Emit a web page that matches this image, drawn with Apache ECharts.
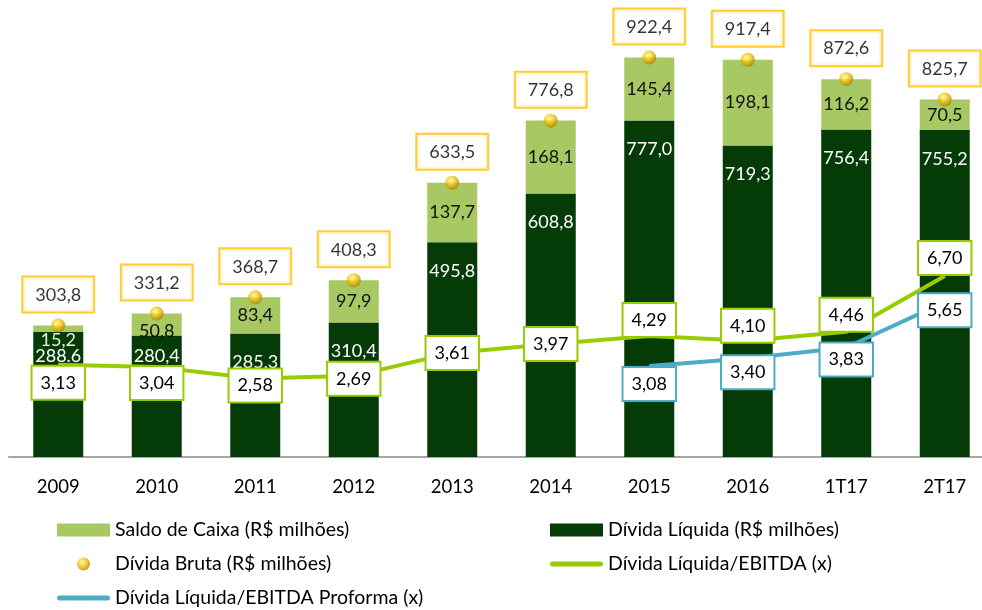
<!DOCTYPE html>
<html>
<head>
<meta charset="utf-8">
<title>Dívida</title>
<script src="https://cdn.jsdelivr.net/npm/echarts@6.0.0/dist/echarts.min.js"></script>
<style>
html, body { margin: 0; padding: 0; background: #fff; overflow: hidden; }
#main { width: 1000px; height: 610px; }
</style>
</head>
<body>
<div id="main"></div>
<script>
// 数据
var categories = ['2009', '2010', '2011', '2012', '2013', '2014', '2015', '2016', '1T17', '2T17'];
var dividaLiquida = [288.6, 280.4, 285.3, 310.4, 495.8, 608.8, 777.0, 719.3, 756.4, 755.2];
var saldoCaixa = [15.2, 50.8, 83.4, 97.9, 137.7, 168.1, 145.4, 198.1, 116.2, 70.5];
var dividaBruta = [303.8, 331.2, 368.7, 408.3, 633.5, 776.8, 922.4, 917.4, 872.6, 825.7];
var ebitda = [3.13, 3.04, 2.58, 2.69, 3.61, 3.97, 4.29, 4.10, 4.46, 6.70];
var ebitdaProforma = [null, null, null, null, null, null, 3.08, 3.40, 3.83, 5.65];

// 标签上下偏移 (px)
var ebitdaShift = [18, 16, 7, 3, 0, 0, -16, -15, -17, -18];
var proformaShift = [0, 0, 0, 0, 0, 0, 18, 14, 12, 8];

var FONT = 'Lato, "Noto Sans", sans-serif';

function br(v, d) {
    return v.toFixed(d).replace('.', ',');
}

// 带边框的标签
function boxLabel(border, d) {
    return {
        show: true,
        color: '#000',
        fontFamily: FONT,
        fontSize: 18,
        lineHeight: 21,
        backgroundColor: '#fff',
        borderColor: border,
        borderWidth: 2,
        padding: [7, 9, 6, 9],
        formatter: function (p) { return br(p.value, d); }
    };
}

var chart = echarts.init(document.getElementById('main'));

var liquidaData = dividaLiquida.map(function (v, i) {
    var item = { value: v };
    if (i === 0) item.label = { formatter: '288.6', offset: [0, -5] };
    if (i === 1) item.label = { offset: [0, -8] };
    return item;
});

var saldoData = saldoCaixa.map(function (v, i) {
    var item = { value: v };
    if (i === 0) item.label = { color: '#e4eed3', offset: [0, 11] };
    if (i === 1) item.label = { offset: [0, 7] };
    return item;
});

var ebitdaData = ebitda.map(function (v, i) {
    return { value: v, label: { offset: [0, ebitdaShift[i]] } };
});

var proformaData = ebitdaProforma.map(function (v, i) {
    if (v === null) return '-';
    return { value: v, label: { offset: [0, proformaShift[i]] } };
});

var ebitdaLabel = boxLabel('#99CC00', 2);
ebitdaLabel.position = 'inside';
ebitdaLabel.padding = [6, 8, 5, 8];
var proformaLabel = boxLabel('#4BACC6', 2);
proformaLabel.position = 'inside';
proformaLabel.padding = [6, 8, 5, 8];

var brutaLabel = boxLabel('#FFC000', 1);
brutaLabel.position = 'top';
brutaLabel.distance = 7;
brutaLabel.padding = [7, 12, 6, 12];

var lineIcon = 'path://M2.5,0H50.5A2.5,2.5,0,0,1,50.5,5H2.5A2.5,2.5,0,0,1,2.5,0Z';
var legendText = { fontSize: 19.5, color: '#000', lineHeight: 20, fontFamily: FONT };

var option = {
    animation: false,
    backgroundColor: '#fff',
    textStyle: { fontFamily: FONT },
    grid: {
        left: 9,
        top: 24,
        width: 985,
        height: 433
    },
    legend: [
        {
            orient: 'vertical',
            left: 57,
            top: 520,
            height: 100,
            padding: 0,
            itemWidth: 53,
            itemHeight: 13,
            itemGap: 14,
            textStyle: legendText,
            data: [
                { name: 'Saldo de Caixa (R$ milhões)', icon: 'rect' },
                { name: 'Dívida Bruta (R$ milhões)', icon: 'circle' },
                { name: 'Dívida Líquida/EBITDA Proforma (x)', icon: lineIcon }
            ]
        },
        {
            orient: 'vertical',
            left: 550,
            top: 520,
            height: 100,
            padding: 0,
            itemWidth: 53,
            itemHeight: 13,
            itemGap: 14,
            textStyle: legendText,
            data: [
                { name: 'Dívida Líquida (R$ milhões)', icon: 'rect' },
                { name: 'Dívida Líquida/EBITDA (x)', icon: lineIcon }
            ]
        }
    ],
    xAxis: {
        type: 'category',
        data: categories,
        axisTick: { show: false },
        axisLine: { lineStyle: { color: '#A6A6A6', width: 2 } },
        axisLabel: { color: '#000', fontSize: 18.5, margin: 21, fontFamily: FONT }
    },
    yAxis: [
        { type: 'value', min: 0, max: 1000, show: false, splitLine: { show: false } },
        { type: 'value', min: -0.57, max: 16.82, show: false, splitLine: { show: false } }
    ],
    series: [
        {
            name: 'Dívida Líquida (R$ milhões)',
            type: 'bar',
            stack: 'divida',
            barWidth: 50,
            itemStyle: { color: '#043B07' },
            label: {
                show: true,
                position: 'insideTop',
                distance: 20,
                color: '#fff',
                fontSize: 18,
                fontFamily: FONT,
                formatter: function (p) { return br(p.value, 1); }
            },
            data: liquidaData
        },
        {
            name: 'Saldo de Caixa (R$ milhões)',
            type: 'bar',
            stack: 'divida',
            barWidth: 50,
            itemStyle: { color: '#A7C862' },
            label: {
                show: true,
                position: 'inside',
                color: '#111',
                fontSize: 18,
                fontFamily: FONT,
                formatter: function (p) { return br(p.value, 1); }
            },
            data: saldoData
        },
        {
            name: 'Dívida Bruta (R$ milhões)',
            type: 'scatter',
            symbol: 'circle',
            symbolSize: 14,
            z: 4,
            itemStyle: {
                color: new echarts.graphic.RadialGradient(0.4, 0.35, 0.7, [
                    { offset: 0, color: '#FFF6B0' },
                    { offset: 0.35, color: '#FFD31A' },
                    { offset: 1, color: '#A87A00' }
                ])
            },
            label: brutaLabel,
            data: dividaBruta
        },
        {
            name: 'Dívida Líquida/EBITDA (x)',
            type: 'line',
            yAxisIndex: 1,
            symbol: 'circle',
            symbolSize: 1,
            z: 5,
            itemStyle: { color: '#99CC00' },
            lineStyle: { color: '#99CC00', width: 4 },
            label: ebitdaLabel,
            data: ebitdaData
        },
        {
            name: 'Dívida Líquida/EBITDA Proforma (x)',
            type: 'line',
            yAxisIndex: 1,
            symbol: 'circle',
            symbolSize: 1,
            z: 5,
            itemStyle: { color: '#4BACC6' },
            lineStyle: { color: '#4BACC6', width: 4 },
            label: proformaLabel,
            data: proformaData
        }
    ]
};

chart.setOption(option);

window.addEventListener('resize', function () {
    chart.resize();
});
</script>
</body>
</html>
